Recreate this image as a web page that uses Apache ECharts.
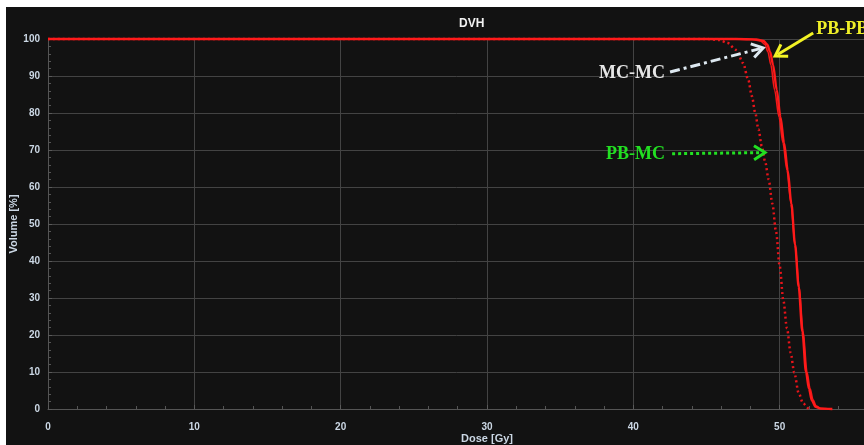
<!DOCTYPE html>
<html>
<head>
<meta charset="utf-8">
<script src="https://cdn.jsdelivr.net/npm/echarts@6/dist/echarts.min.js"></script>
<style>
html,body{margin:0;padding:0;background:#ffffff;width:864px;height:445px;overflow:hidden;}
#chart{position:absolute;left:6px;top:7px;width:858px;height:438px;}
</style>
</head>
<body>
<div id="chart"></div>
<script>
// ---- data ----
const xTicks = [0, 10, 20, 30, 40, 50, 60];
const yTicks = [0, 10, 20, 30, 40, 50, 60, 70, 80, 90, 100];

const pbpbDose = [0, 47, 48.4, 48.9, 49.15, 49.35, 49.55, 49.8, 50.05, 50.3, 50.55, 50.8, 51.05, 51.3, 51.55, 51.8, 52.0, 52.2, 52.45, 52.8, 53.6];
const pbpbVol  = [100, 100, 99.9, 99.5, 98.5, 96.5, 93, 86.3, 79, 72, 64.5, 55.5, 44.5, 33, 21, 10, 5.5, 2.3, 0.6, 0.1, 0];

const mcmcDose = [0, 46.5, 48.1, 48.7, 49.0, 49.2, 49.4, 49.65, 49.95, 50.22, 50.5, 50.77, 51.05, 51.33, 51.6, 51.87, 52.08, 52.28, 52.5, 52.8, 53.5];
const mcmcVol  = [100, 100, 99.9, 99.5, 98.5, 96.5, 93, 86.3, 79, 72, 64.5, 55.5, 44.5, 33, 21, 10, 5.5, 2.5, 0.8, 0.2, 0];

const pbmcDose = [0, 45.0, 45.9, 46.4, 47.05, 47.5, 47.85, 48.1, 48.33, 48.55, 48.78, 49.0, 49.25, 49.5, 49.75, 50.0, 50.25, 50.5, 50.75, 51.0, 51.3, 51.6, 52.0, 52.2];
const pbmcVol  = [100, 100, 99.7, 99.0, 97.0, 93.5, 89, 84.6, 80.1, 75.6, 71, 67, 62, 55.5, 48, 38.7, 29.4, 21.8, 15.2, 9.8, 4.3, 1.5, 0.1, 0];

// annotation labels and arrows (in data coordinates)
const annLabels = ['PB-PB', 'MC-MC', 'PB-MC'];
const annLabelPos = [[52.5, 102.7], [37.66, 90.8], [38.14, 68.7]];
const annColors = ['#f0f028', '#e6e6e6', '#22e022'];
const arrowFrom = [[52.29, 101.6], [42.51, 91.1], [42.65, 69.0]];
const arrowTo   = [[49.69, 95.4], [48.87, 97.6], [49.0, 69.3]];
const arrowColors = ['#f2f224', '#dde8f0', '#22e022'];
const arrowDash = [null, [10, 4, 3, 4], [3, 3]];

function pairs(xs, ys) { return xs.map((x, i) => [x, ys[i]]); }

const labelColor = '#cbd7e4';
const gridColor = '#434343';

const chart = echarts.init(document.getElementById('chart'));
chart.setOption({
  backgroundColor: '#121212',
  animation: false,
  title: {
    text: 'DVH', left: 448, top: 6,
    textStyle: {color: '#f2f2f2', fontSize: 12, fontWeight: 'bold', fontFamily: 'Liberation Sans'}
  },
  grid: {left: 42, top: 32, right: -62, bottom: 36, containLabel: false, outerBoundsMode: 'none'},
  xAxis: {
    type: 'value', min: xTicks[0], max: xTicks[xTicks.length - 1], interval: 10,
    offset: 3,
    name: 'Dose [Gy]', nameLocation: 'middle', nameGap: 21, nameMoveOverlap: false,
    nameTextStyle: {color: labelColor, fontSize: 11, fontWeight: 'bold', fontFamily: 'Liberation Sans'},
    axisLine: {show: true, lineStyle: {color: '#555555', width: 1}},
    axisTick: {show: true, inside: true, length: 4, lineStyle: {color: '#5a5a5a'}},
    minorTick: {show: true, splitNumber: 5, length: 3, lineStyle: {color: '#555555'}},
    splitLine: {show: true, lineStyle: {color: gridColor, width: 1}},
    axisLabel: {color: labelColor, fontSize: 10, fontWeight: 'bold', fontFamily: 'Liberation Sans', margin: 10}
  },
  yAxis: {
    type: 'value', min: yTicks[0], max: yTicks[yTicks.length - 1], interval: 10,
    name: 'Volume [%]', nameLocation: 'middle', nameGap: 29, nameRotate: 90, nameMoveOverlap: false,
    nameTextStyle: {color: labelColor, fontSize: 11, fontWeight: 'bold', fontFamily: 'Liberation Sans'},
    axisLine: {show: true, lineStyle: {color: '#555555', width: 1}},
    axisTick: {show: true, inside: true, length: 4, lineStyle: {color: '#5a5a5a'}},
    minorTick: {show: true, splitNumber: 5, length: 3, lineStyle: {color: '#555555'}},
    splitLine: {show: true, lineStyle: {color: gridColor, width: 1}},
    axisLabel: {color: labelColor, fontSize: 10, fontWeight: 'bold', fontFamily: 'Liberation Sans', margin: 8}
  },
  series: [
    {
      name: 'PB-MC', type: 'line', data: pairs(pbmcDose, pbmcVol), showSymbol: false,
      smooth: 0.3, smoothMonotone: 'x', clip: false,
      lineStyle: {color: '#e8141a', width: 2.5, type: [2, 3]}
    },
    {
      name: 'MC-MC', type: 'line', data: pairs(mcmcDose, mcmcVol), showSymbol: false,
      smooth: 0.3, smoothMonotone: 'x', clip: false,
      lineStyle: {color: '#f01818', width: 1.6}
    },
    {
      name: 'PB-PB', type: 'line', data: pairs(pbpbDose, pbpbVol), showSymbol: false,
      smooth: 0.3, smoothMonotone: 'x', clip: false,
      lineStyle: {color: '#ff1a1a', width: 2.4}
    }
  ]
});

// annotations: convert data coordinates to pixels
const toPx = (p) => chart.convertToPixel({gridIndex: 0}, p);
const graphics = [];
annLabels.forEach((t, i) => {
  const p = toPx(annLabelPos[i]);
  graphics.push({
    type: 'text', x: p[0], y: p[1], z: 20,
    style: {
      text: t, fill: annColors[i], font: 'bold 18px "Liberation Serif"',
      textAlign: 'left', textVerticalAlign: 'middle'
    }
  });
});
arrowFrom.forEach((f, i) => {
  const a = toPx(f), b = toPx(arrowTo[i]);
  const dx = b[0] - a[0], dy = b[1] - a[1];
  const len = Math.sqrt(dx * dx + dy * dy);
  const ux = dx / len, uy = dy / len;
  const L = 11, W = 7;
  const bx = b[0] - ux * L, by = b[1] - uy * L;
  const nx = -uy, ny = ux;
  graphics.push({
    type: 'line', z: 20,
    shape: {x1: a[0], y1: a[1], x2: b[0] - ux * 3, y2: b[1] - uy * 3},
    style: {stroke: arrowColors[i], lineWidth: 3, lineDash: arrowDash[i]}
  });
  graphics.push({
    type: 'polyline', z: 21,
    shape: {points: [[bx + nx * W, by + ny * W], [b[0], b[1]], [bx - nx * W, by - ny * W]]},
    style: {stroke: arrowColors[i], lineWidth: 3, fill: null, lineJoin: 'miter'}
  });
});
chart.setOption({graphic: graphics});
</script>
</body>
</html>
